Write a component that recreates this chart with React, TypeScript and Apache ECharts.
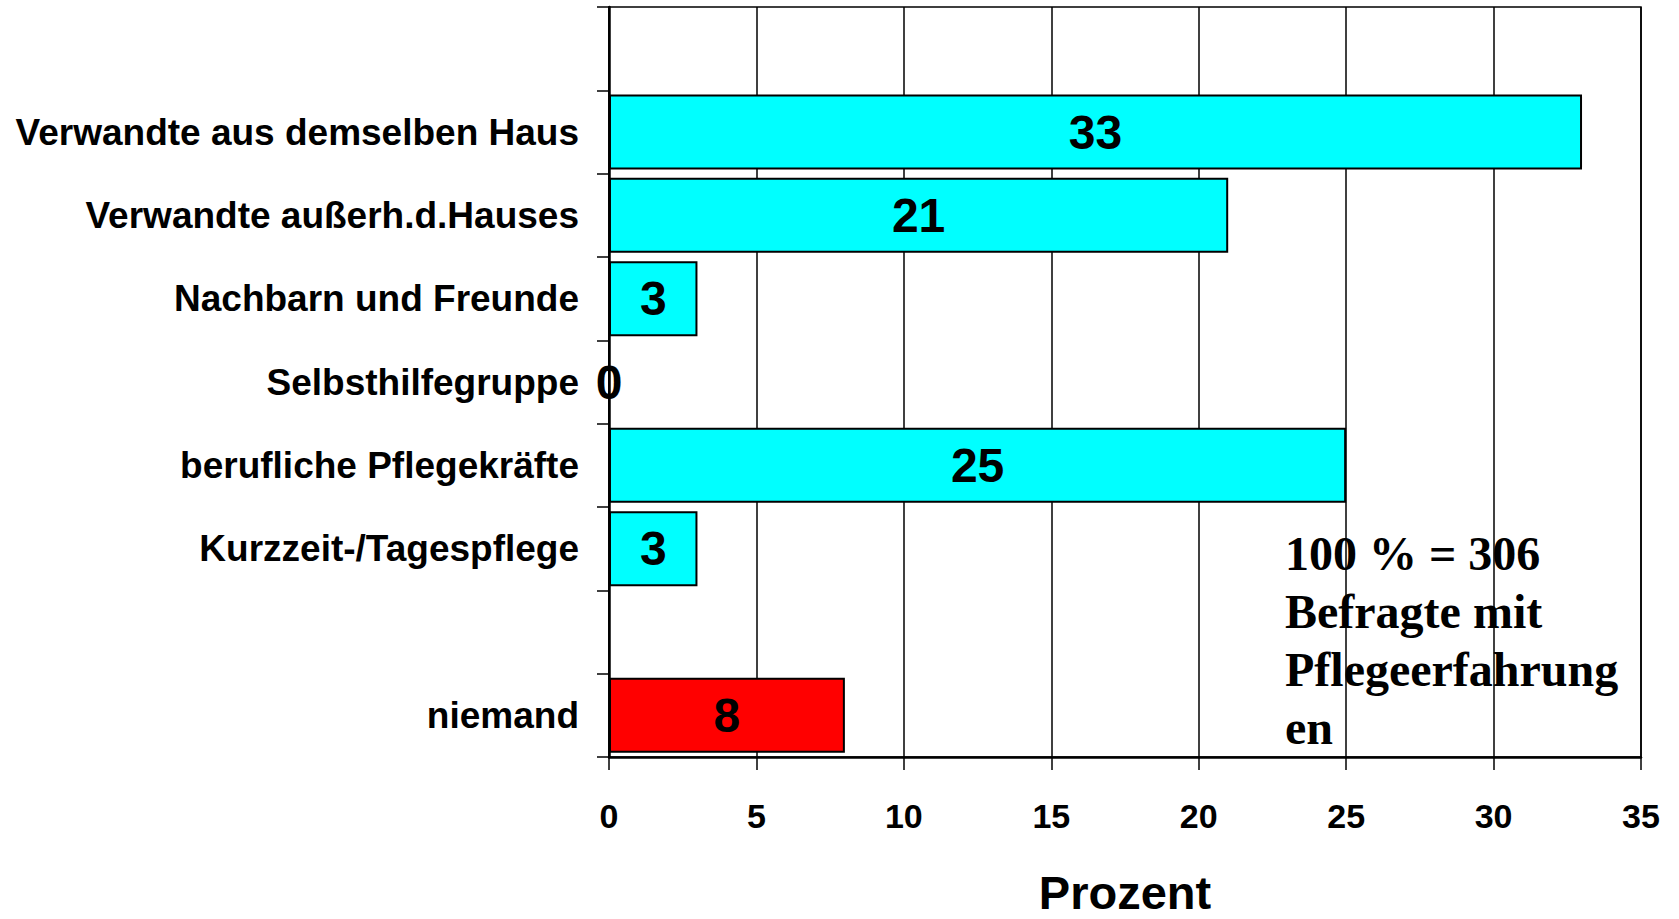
import React, { useEffect, useRef } from "react";
import * as echarts from "echarts";

const categories = [
  " ",
  "Verwandte aus demselben Haus",
  "Verwandte außerh.d.Hauses",
  "Nachbarn und Freunde",
  "Selbsthilfegruppe",
  "berufliche Pflegekräfte",
  "Kurzzeit-/Tagespflege",
  "  ",
  "niemand",
];
const values: (number | null)[] = [null, 33, 21, 3, 0, 25, 3, null, 8];
const barColors = ["#00FFFF", "#00FFFF", "#00FFFF", "#00FFFF", "#00FFFF", "#00FFFF", "#00FFFF", "#00FFFF", "#FF0000"];
const xTicks = [0, 35, 5];
const axisName = "Prozent";
const noteLines = ["100 % = 306", "Befragte mit", "Pflegeerfahrung", "en"];

const SANS = '"Liberation Sans", Arial, sans-serif';

export default function App() {
  const ref = useRef<HTMLDivElement>(null);
  useEffect(() => {
    if (!ref.current) return;
    const chart = echarts.init(ref.current, null, { renderer: "svg" });
    chart.setOption({
      animation: false,
      backgroundColor: "#ffffff",
      grid: {
        left: 609,
        right: 38,
        top: 7,
        bottom: 162,
        outerBoundsMode: "none",
        containLabel: false,
        show: true,
        borderColor: "#000",
        borderWidth: 1.5,
        backgroundColor: "transparent",
      },
      xAxis: {
        type: "value",
        min: xTicks[0],
        max: xTicks[1],
        interval: xTicks[2],
        name: axisName,
        nameLocation: "middle",
        nameGap: 112,
        nameTextStyle: { fontFamily: SANS, fontWeight: "bold", fontSize: 47, lineHeight: 47, color: "#000" },
        axisLine: { show: true, lineStyle: { color: "#000", width: 2.5 } },
        axisTick: { show: true, length: 13, lineStyle: { color: "#000", width: 1.5 } },
        axisLabel: { margin: 42, fontFamily: SANS, fontWeight: "bold", fontSize: 34, color: "#000" },
        splitLine: { show: true, lineStyle: { color: "#000", width: 1.5 } },
      },
      yAxis: {
        type: "category",
        inverse: true,
        data: categories,
        axisLine: { show: true, lineStyle: { color: "#000", width: 2.5 } },
        axisTick: { show: true, length: 12, lineStyle: { color: "#000", width: 1.5 } },
        axisLabel: { margin: 30, fontFamily: SANS, fontWeight: "bold", fontSize: 37, color: "#000" },
        splitLine: { show: false },
      },
      series: [
        {
          type: "bar",
          barCategoryGap: "10%",
          data: values.map((v, i) => ({
            value: v,
            itemStyle: { color: barColors[i], borderColor: "#000", borderWidth: 2 },
          })),
          label: {
            show: true,
            position: "inside",
            fontFamily: SANS,
            fontWeight: "bold",
            fontSize: 48,
            color: "#000",
            formatter: (p: any) => (p.value === null || p.value === undefined ? "" : String(p.value)),
          },
        },
      ],
      graphic: [
        {
          type: "text",
          left: 1285,
          top: 524,
          z: 10,
          style: {
            text: noteLines.join("\n"),
            fontFamily: '"Liberation Serif", "Times New Roman", serif',
            fontWeight: "bold",
            fontSize: 48,
            lineHeight: 58,
            fill: "#000",
          },
        },
      ],
    });
    return () => chart.dispose();
  }, []);
  return (
    <div
      ref={ref}
      style={{ position: "fixed", left: 0, top: 0, width: 1679, height: 919 }}
    />
  );
}
